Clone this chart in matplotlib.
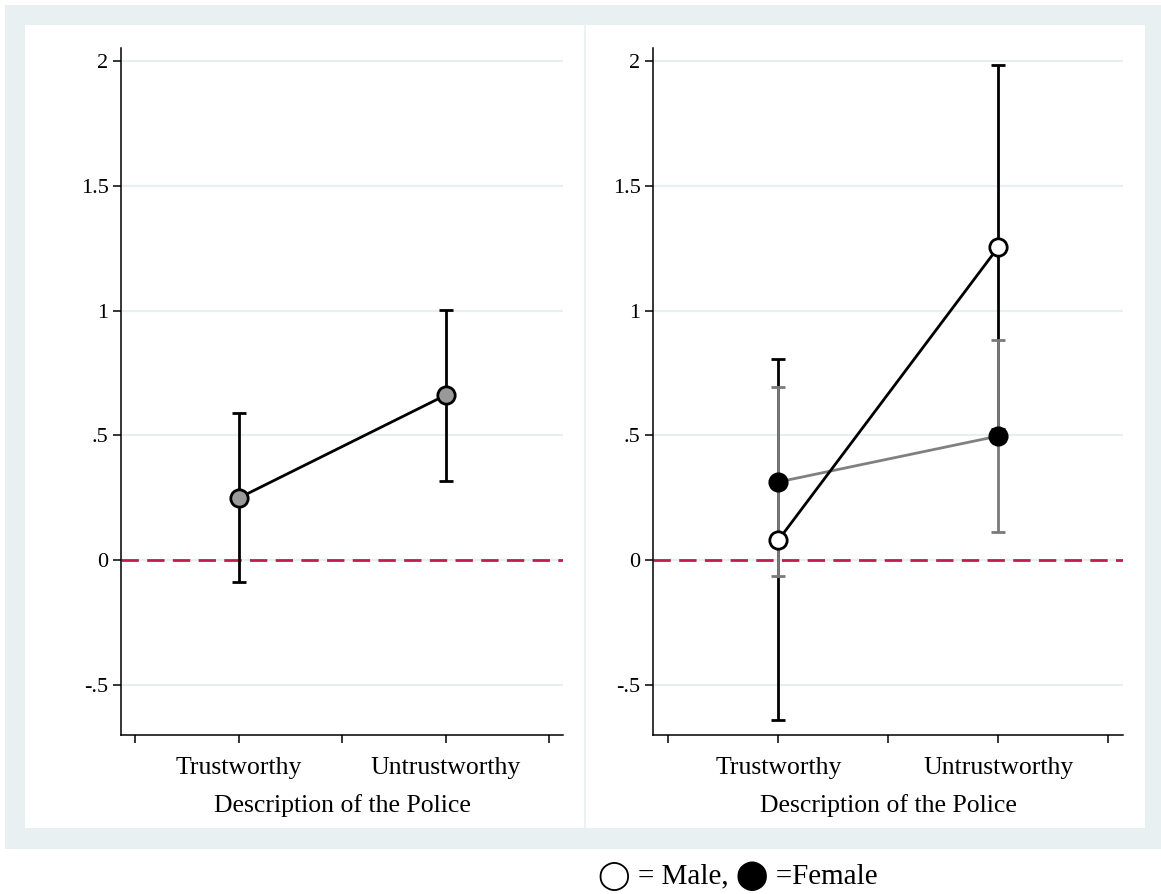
import matplotlib
matplotlib.use("Agg")
import matplotlib.pyplot as plt
from matplotlib.patches import Rectangle
from matplotlib.lines import Line2D

# pooled estimates (left) and by gender (right)
categories = ["Trustworthy", "Untrustworthy"]
pooled_mean = [0.249, 0.661]
pooled_lo = [-0.088, 0.317]
pooled_hi = [0.589, 1.002]

male_mean = [0.080, 1.254]
male_lo = [-0.641, 0.524]
male_hi = [0.806, 1.984]

female_mean = [0.313, 0.497]
female_lo = [-0.064, 0.112]
female_hi = [0.693, 0.882]

ytick_vals = [-0.5, 0, 0.5, 1, 1.5, 2]
ytick_text = ["-.5", "0", ".5", "1", "1.5", "2"]

SERIF = ["Liberation Serif", "DejaVu Serif"]
plt.rcParams["font.family"] = SERIF
plt.rcParams["lines.scale_dashes"] = False

FRAME = "#e9f0f2"
GRID = "#e8eff1"
ZERO = "#c41a4c"
FEMALE = "#7a7a7a"
LW = 2.0
MS = 12.5

W, H = 1161, 894
fig = plt.figure(figsize=(W / 100, H / 100), dpi=100)


def box(x0, y0, x1, y1, color):
    # pixel box -> figure fraction patch
    fig.patches.append(Rectangle((x0 / W, 1 - y1 / H), (x1 - x0) / W, (y1 - y0) / H,
                                 transform=fig.transFigure, facecolor=color,
                                 edgecolor="none", zorder=-10))


box(5, 5, W, 849, FRAME)
box(25, 25, 1145, 828, "white")
fig.lines.append(Line2D([585 / W, 585 / W], [1 - 828 / H, 1 - 25 / H],
                        transform=fig.transFigure, color=FRAME, lw=1.2, zorder=-5))

xpos = [1, 2]
ax1 = fig.add_axes([121 / W, 1 - 735 / H, (563 - 121) / W, (735 - 48) / H])
ax2 = fig.add_axes([653 / W, 1 - 735 / H, (1123 - 653) / W, (735 - 48) / H])


def errs(mean, lo, hi):
    return [[m - l for m, l in zip(mean, lo)], [h - m for m, h in zip(mean, hi)]]


def style(ax):
    ax.set_xlim(0.43, 2.567)
    ax.set_ylim(-0.701, 2.052)
    ax.set_yticks(ytick_vals)
    ax.set_yticklabels(ytick_text, fontsize=16)
    ax.set_xticks([0.5, 1, 1.5, 2, 2.5])
    ax.set_xticklabels(["", categories[0], "", categories[1], ""], fontsize=18.5)
    ax.tick_params(axis="both", direction="out", length=6, width=1.1, color="black")
    ax.tick_params(axis="y", pad=3)
    ax.tick_params(axis="x", pad=10)
    for s in ["top", "right"]:
        ax.spines[s].set_visible(False)
    for s in ["left", "bottom"]:
        ax.spines[s].set_linewidth(1.1)
    ax.set_facecolor("white")
    ax.grid(axis="y", color=GRID, lw=1.6, zorder=0)
    ax.set_axisbelow(True)
    ax.axhline(0, color=ZERO, lw=2.0, dashes=(12.5, 6), zorder=1)
    ax.set_xlabel("Description of the Police", fontsize=18.5, labelpad=11)


# left panel: all respondents
style(ax1)
ax1.errorbar(xpos, pooled_mean, yerr=errs(pooled_mean, pooled_lo, pooled_hi),
             fmt="none", ecolor="black", elinewidth=LW, capsize=5, capthick=LW, zorder=2)
ax1.plot(xpos, pooled_mean, color="black", lw=LW, marker="o", ms=MS,
         mfc="#999999", mec="black", mew=LW, zorder=4)

# right panel: male vs female
style(ax2)
ax2.errorbar(xpos, male_mean, yerr=errs(male_mean, male_lo, male_hi),
             fmt="none", ecolor="black", elinewidth=LW, capsize=5, capthick=LW, zorder=2)
ax2.errorbar(xpos, female_mean, yerr=errs(female_mean, female_lo, female_hi),
             fmt="none", ecolor=FEMALE, elinewidth=LW, capsize=5, capthick=LW, zorder=3)
ax2.plot(xpos, female_mean, color="#808080", lw=LW, zorder=4)
ax2.plot(xpos, male_mean, color="black", lw=LW, zorder=4)
ax2.plot(xpos, female_mean, ls="none", marker="o", ms=MS, mfc="black", mec="black",
         mew=LW, zorder=5)
ax2.plot(xpos, male_mean, ls="none", marker="o", ms=MS, mfc="white", mec="black",
         mew=LW, zorder=5)

fig.text(738 / W, 1 - 876 / H, "◯ = Male, ⬤ =Female", ha="center", va="center",
         fontsize=21, family=SERIF + ["DejaVu Sans"])

fig.savefig("out.png", dpi=100, facecolor="white")
